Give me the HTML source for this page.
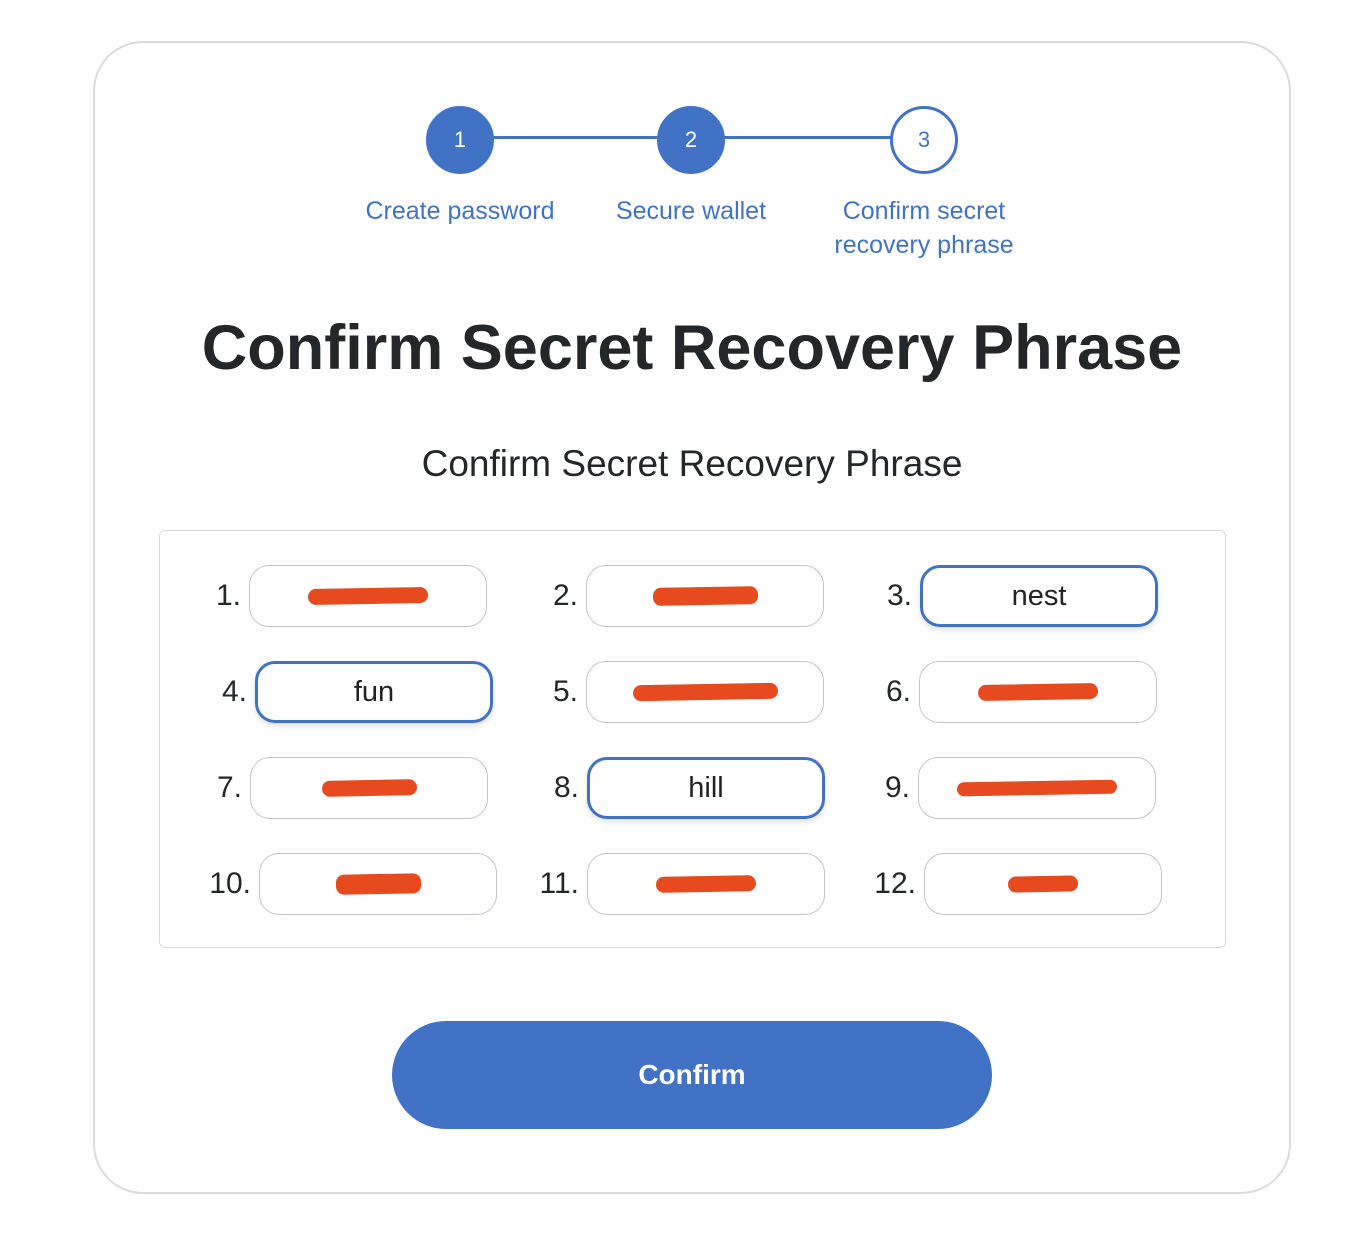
<!DOCTYPE html>
<html><head><meta charset="utf-8"><style>
*{margin:0;padding:0;box-sizing:border-box}
body{width:1372px;height:1250px;background:#fff;position:relative;font-family:"Liberation Sans",sans-serif;overflow:hidden}
.a{position:absolute}
.card{left:93px;top:41px;width:1198px;height:1153px;border:2px solid #d9dbde;border-radius:50px}
.circ{width:68px;height:68px;border-radius:50%;background:#4172c6;color:#fff;font-size:22px;display:flex;align-items:center;justify-content:center;border:3px solid #4172c6}
.lbl{color:#4172c6;font-size:25px;text-align:center;width:280px;line-height:34px}
.box{left:159px;top:530px;width:1067px;height:418px;border:1.5px solid #d6d9dc;border-radius:6px}
.in{width:238px;height:62px;border:1.5px solid #c2c5c9;border-radius:20px;display:flex;align-items:center;justify-content:center;font-size:29px;color:#222}
.sel{border:3px solid #4172c6;box-shadow:0 3px 6px rgba(0,0,0,.12)}
.num{font-size:30px;color:#24272a;width:60px;text-align:right;line-height:62px}
.red{background:#e84a1f;height:16px;border-radius:8px;transform:rotate(-1deg)}
</style></head><body>
<div class="a card"></div>
<div class="a" style="left:490px;top:136px;width:410px;height:3px;background:#4172c6"></div>
<div class="a circ" style="left:426px;top:106px">1</div>
<div class="a circ" style="left:657px;top:106px">2</div>
<div class="a circ" style="left:890px;top:106px;background:#fff;color:#4172c6">3</div>
<div class="a lbl" style="left:320px;top:194px">Create password</div>
<div class="a lbl" style="left:551px;top:194px">Secure wallet</div>
<div class="a lbl" style="left:784px;top:194px">Confirm secret<br>recovery phrase</div>
<div class="a" style="left:0;width:1384px;top:312px;text-align:center;font-size:63px;font-weight:bold;color:#24272a">Confirm Secret Recovery Phrase</div>
<div class="a" style="left:0;width:1384px;top:443px;text-align:center;font-size:37px;color:#24272a">Confirm Secret Recovery Phrase</div>
<div class="a box"></div>

<div class="a num" style="left:181px;top:565px">1.</div><div class="a in" style="left:249px;top:565px"><div class="red" style="width:120px"></div></div>
<div class="a num" style="left:518px;top:565px">2.</div><div class="a in" style="left:586px;top:565px"><div class="red" style="width:105px;height:18px"></div></div>
<div class="a num" style="left:852px;top:565px">3.</div><div class="a in sel" style="left:920px;top:565px">nest</div>

<div class="a num" style="left:187px;top:661px">4.</div><div class="a in sel" style="left:255px;top:661px">fun</div>
<div class="a num" style="left:518px;top:661px">5.</div><div class="a in" style="left:586px;top:661px"><div class="red" style="width:145px"></div></div>
<div class="a num" style="left:851px;top:661px">6.</div><div class="a in" style="left:919px;top:661px"><div class="red" style="width:120px"></div></div>

<div class="a num" style="left:182px;top:757px">7.</div><div class="a in" style="left:250px;top:757px"><div class="red" style="width:95px"></div></div>
<div class="a num" style="left:519px;top:757px">8.</div><div class="a in sel" style="left:587px;top:757px">hill</div>
<div class="a num" style="left:850px;top:757px">9.</div><div class="a in" style="left:918px;top:757px"><div class="red" style="width:160px;height:14px"></div></div>

<div class="a num" style="left:191px;top:853px">10.</div><div class="a in" style="left:259px;top:853px"><div class="red" style="width:85px;height:20px"></div></div>
<div class="a num" style="left:519px;top:853px">11.</div><div class="a in" style="left:587px;top:853px"><div class="red" style="width:100px"></div></div>
<div class="a num" style="left:856px;top:853px">12.</div><div class="a in" style="left:924px;top:853px"><div class="red" style="width:70px"></div></div>

<div class="a" style="left:392px;top:1021px;width:600px;height:108px;border-radius:54px;background:#4172c6;color:#fff;font-size:28px;font-weight:bold;display:flex;align-items:center;justify-content:center">Confirm</div>
</body></html>
